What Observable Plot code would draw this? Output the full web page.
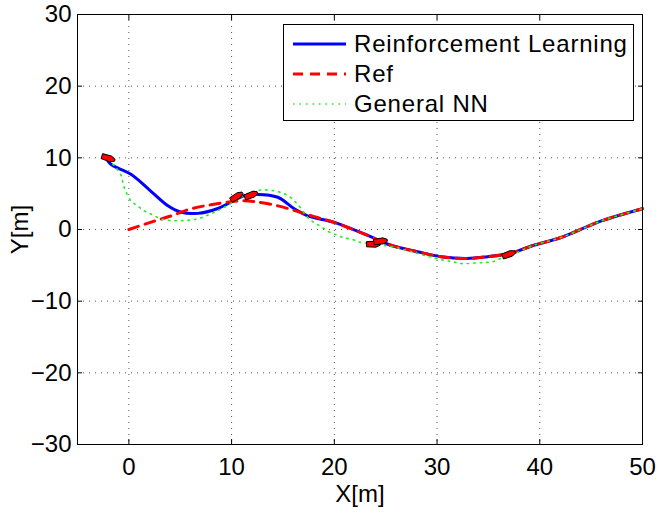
<!DOCTYPE html>
<html><head><meta charset="utf-8">
<script src="https://cdn.jsdelivr.net/npm/d3@7"></script>
<script src="https://cdn.jsdelivr.net/npm/@observablehq/plot@0.6"></script>
<style>
body{margin:0;background:#fff;font-family:"Liberation Sans",Arial,sans-serif;}
#wrap{position:relative;width:658px;height:515px;}
#legend{position:absolute;left:283px;top:24px;width:351px;height:97px;border:1px solid #000;background:#fff;box-sizing:border-box;}
.row{position:absolute;left:9px;height:30px;display:flex;align-items:center;font-size:24px;color:#000;white-space:nowrap;letter-spacing:0.8px;}
.row svg{margin-right:8px;}
</style></head><body><div id="wrap"></div>
<script>
// Reinforcement Learning trajectory
const rlX = [-2.2, -1.75, 0.2, 2.1, 3.8, 5.1, 6.7, 8.6, 9.9, 11.2, 12.5, 14.5, 16.1, 17.4, 20.0, 23.2, 25.5, 28.1, 30.4, 32.9, 34.9, 37.2, 39.4, 42.0, 46.0, 50.0];
const rlY = [9.9, 9.1, 7.7, 5.4, 3.3, 2.4, 2.25, 2.9, 3.8, 4.7, 4.9, 4.5, 2.9, 1.9, 1.0, -0.8, -2.2, -3.1, -3.8, -4.05, -3.8, -3.3, -2.2, -1.15, 1.2, 2.9];
// Reference path
const refX = [0, 2.1, 4.1, 6.0, 8.0, 9.9, 11.0, 12.2, 14.5, 16.7, 18.5, 20.0, 23.2, 25.5, 28.1, 30.4, 32.9, 34.9, 37.2, 39.4, 42.0, 46.0, 50.0];
const refY = [0, 1.0, 1.9, 2.86, 3.46, 3.87, 4.0, 3.9, 3.3, 2.4, 1.6, 1.0, -0.8, -2.2, -3.1, -3.8, -4.05, -3.8, -3.3, -2.2, -1.15, 1.2, 2.9];
// General NN trajectory
const nnX = [-2.0, -1.4, -0.8, -0.45, 0.2, 0.85, 1.5, 2.1, 3.1, 4.1, 5.4, 6.7, 8.0, 9.3, 10.6, 11.5, 12.8, 14.1, 15.4, 16.4, 17.4, 18.0, 18.7, 19.5, 20.3, 20.9, 21.8, 22.4, 23.1, 24.3, 26.0, 28.0, 29.5, 30.7, 31.6, 32.3, 32.9, 33.9, 34.7, 35.4, 36.2, 37.5, 39.4, 42.0, 46.0, 50.0];
const nnY = [9.8, 8.85, 7.7, 5.85, 4.0, 3.3, 2.6, 2.2, 1.5, 1.25, 1.25, 1.5, 2.2, 3.1, 4.25, 5.0, 5.5, 5.4, 4.8, 3.55, 1.7, 1.0, 0.4, -0.35, -0.8, -1.15, -1.4, -1.75, -1.9, -2.1, -2.5, -3.3, -3.9, -4.3, -4.5, -4.75, -4.75, -4.65, -4.6, -4.5, -4.05, -3.4, -2.2, -1.15, 1.2, 2.9];
// Vehicle snapshots
const carX = [-2.0, 10.5, 11.9, 23.8, 24.5, 37.0];
const carY = [9.95, 4.6, 4.8, -2.05, -1.63, -3.45];
const carHeading = [18, -32, -22, 0, -8, -20];
// Ticks
const xTicks = [0, 10, 20, 30, 40, 50];
const yTicks = [-30, -20, -10, 0, 10, 20, 30];
const seriesNames = ["Reinforcement Learning", "Ref", "General NN"];

const toRows = (xs, ys) => xs.map((x, i) => ({x, y: ys[i]}));
const rl = toRows(rlX, rlY), ref = toRows(refX, refY), nn = toRows(nnX, nnY);
const cars = carX.map((x, i) => ({x, y: carY[i], h: carHeading[i]}));

function carSymbol(deg) {
  const a = deg * Math.PI / 180, c = Math.cos(a), s = Math.sin(a);
  const pts = [[-6.8, -2.6], [2.5, -3.0], [6.8, -1.0], [6.8, 1.0], [2.5, 3.0], [-6.8, 2.6]];
  return {draw(ctx) {
    pts.forEach(([px, py], i) => {
      const X = px * c - py * s, Y = px * s + py * c;
      i ? ctx.lineTo(X, Y) : ctx.moveTo(X, Y);
    });
    ctx.closePath();
  }};
}

const gridStyle = {stroke: "#444", strokeOpacity: 0.9, strokeWidth: 1, strokeDasharray: "1,5"};
const noText = () => "";

const chart = Plot.plot({
  width: 658, height: 515,
  marginLeft: 77, marginRight: 16, marginTop: 14, marginBottom: 71,
  x: {domain: [-5, 50]},
  y: {domain: [-30, 30]},
  style: {fontFamily: "'Liberation Sans', Arial, sans-serif", fontSize: "24px", color: "#000", background: "#fff", overflow: "visible"},
  marks: [
    Plot.gridX(xTicks, gridStyle),
    Plot.gridY(yTicks, gridStyle),
    Plot.line(rl, {x: "x", y: "y", stroke: "#0000ff", strokeWidth: 3, curve: "catmull-rom"}),
    Plot.line(ref, {x: "x", y: "y", stroke: "#ff0000", strokeWidth: 3, strokeDasharray: "10,7", curve: "catmull-rom"}),
    Plot.line(nn, {x: "x", y: "y", stroke: "#22ee22", strokeWidth: 1.6, strokeDasharray: "1.5,5", curve: "catmull-rom"}),
    ...cars.map(c => Plot.dot([c], {x: "x", y: "y", symbol: carSymbol(c.h), r: 6, fill: "#ff0000", stroke: "#000", strokeWidth: 1})),
    Plot.axisX(xTicks, {anchor: "bottom", tickSize: 0, tickPadding: 13, label: null, fontSize: 24}),
    Plot.axisY(yTicks, {anchor: "left", tickSize: 0, tickPadding: 6, label: null, fontSize: 24}),
    Plot.axisX(xTicks, {anchor: "bottom", tickSize: -5, tickFormat: noText, label: null}),
    Plot.axisX(xTicks, {anchor: "top", tickSize: -5, tickFormat: noText, label: null}),
    Plot.axisY(yTicks, {anchor: "left", tickSize: -5, tickFormat: noText, label: null}),
    Plot.axisY(yTicks, {anchor: "right", tickSize: -5, tickFormat: noText, label: null}),
    Plot.frame({stroke: "#000", strokeWidth: 1}),
    Plot.text(["X[m]"], {frameAnchor: "bottom", dy: 50, text: d => d, fontSize: 24, textAnchor: "middle", lineAnchor: "middle"}),
    Plot.text(["Y[m]"], {frameAnchor: "left", dx: -57, rotate: -90, text: d => d, fontSize: 24, textAnchor: "middle", lineAnchor: "middle"})
  ]
});

const wrap = document.getElementById("wrap");
wrap.appendChild(chart);

// Legend (inside the axes, top-right)
const legend = document.createElement("div");
legend.id = "legend";
const styles = [
  {stroke: "#0000ff", width: 3, dash: null},
  {stroke: "#ff0000", width: 3, dash: "10,7"},
  {stroke: "#22ee22", width: 1.6, dash: "1.5,5"}
];
seriesNames.forEach((name, i) => {
  const row = document.createElement("div");
  row.className = "row";
  row.style.top = (4 + i * 30) + "px";
  const st = styles[i];
  row.innerHTML = `<svg width="53" height="30"><line x1="0" x2="53" y1="15" y2="15" stroke="${st.stroke}" stroke-width="${st.width}" ${st.dash ? `stroke-dasharray="${st.dash}"` : ""}/></svg><span>${name}</span>`;
  legend.appendChild(row);
});
wrap.appendChild(legend);
</script>
</body></html>
